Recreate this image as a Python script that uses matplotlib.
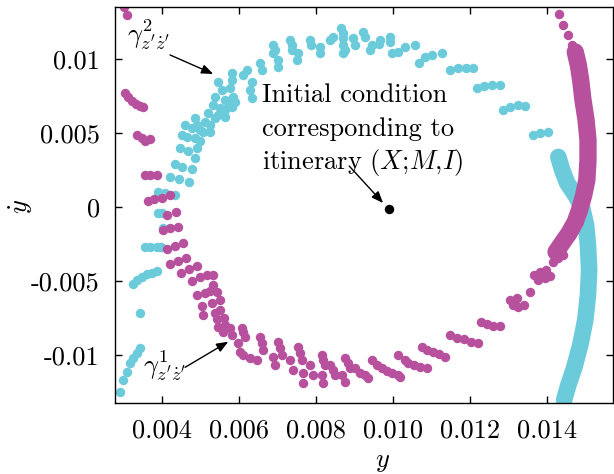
import numpy as np
import matplotlib.pyplot as plt

plt.rcParams['font.family'] = 'cmr10'
plt.rcParams['mathtext.fontset'] = 'cm'
plt.rcParams['axes.unicode_minus'] = False

CYAN = '#6ccbdb'
MAGENTA = '#b7519e'

# all values in units of 1e-3
# gamma^1 (magenta) scattered points
mag_y = np.array([
    3.01, 3.10,
    3.04, 3.12, 3.21, 3.32, 3.43, 3.51,
    3.34, 3.47, 3.56, 3.69,
    3.56, 3.69, 3.86,
    3.64, 3.80, 3.99, 4.21,
    4.12, 4.36,
    4.03, 4.21, 4.42,
    4.12, 4.34, 4.54,
    4.21, 4.41, 4.62,
    4.49, 4.70, 4.91,
    4.77, 4.99, 5.16, 5.33,
    4.90, 5.12, 5.25, 5.33, 5.42,
    5.03, 5.29, 5.51, 5.51,
    5.07, 5.38, 5.61,
    5.42,
    5.46, 5.64, 5.77,
    5.59, 5.81,
    6.07, 6.10, 6.16,
    5.98, 6.03, 6.11, 6.29, 6.46,
    6.55, 6.59, 6.63,
    6.89, 6.94,
    7.02, 7.06, 7.11,
    7.32, 7.41,
    7.54, 7.58, 7.63,
    7.67, 7.67,
    7.84, 7.93,
    8.15, 8.19, 8.23,
    8.15, 8.19,
    8.36, 8.44, 8.49,
    8.67, 8.74,
    8.75, 8.82, 8.88,
    9.01, 9.14,
    9.27, 9.34,
    9.45, 9.58,
    9.71, 9.84, 9.97,
    10.14, 10.18,
    10.14, 10.31,
    10.40, 10.55, 10.70, 10.88,
    10.75, 10.88, 11.04, 11.19, 11.35,
    11.48, 11.66, 11.84, 12.03, 12.21,
    12.29, 12.44, 12.60, 12.78,
    13.04, 13.12, 13.25, 13.40, 13.22,
    13.56,
    13.66, 13.82, 13.97, 13.77, 13.95, 14.08,
    14.16, 14.29, 14.42,
    14.29, 14.42, 14.55, 14.70,
    14.31, 14.42, 14.55, 14.65,
]) * 1e-3
mag_ydot = np.array([
    13.51, 12.97,
    7.72, 7.41, 7.18, 6.96, 6.82, 6.74,
    4.86, 4.64, 4.48, 4.59,
    2.16, 2.16, 2.16,
    0.41, 0.52, 0.63, 0.79,
    -0.56, -0.34,
    -1.55, -1.44, -1.37,
    -2.86, -2.64, -2.45,
    -3.85, -3.63, -3.43,
    -4.44, -4.16, -3.99,
    -4.98, -4.75, -4.59, -4.59,
    -5.95, -5.83, -5.66, -5.27, -5.72,
    -6.69, -6.51, -6.28, -6.96,
    -7.30, -7.14, -7.50,
    -7.59,
    -8.09, -7.97, -8.20,
    -8.43, -8.65,
    -8.20, -8.45, -8.76,
    -9.21, -9.78, -10.0, -10.22, -10.34,
    -8.76, -9.21, -9.66,
    -10.11, -10.68,
    -9.10, -9.55, -10.0,
    -10.34, -11.01,
    -9.44, -9.89, -10.34,
    -11.24, -11.91,
    -10.68, -11.35,
    -10.0, -10.34, -10.68,
    -11.35, -11.91,
    -10.68, -11.01, -11.35,
    -11.35, -11.80,
    -10.22, -10.54, -10.90,
    -10.90, -11.24,
    -11.35, -11.57,
    -10.34, -10.68,
    -10.90, -11.07, -11.24,
    -11.35, -11.51,
    -10.0, -10.34,
    -10.56, -10.68, -10.81, -10.90,
    -9.44, -9.66, -9.80, -9.93, -10.11,
    -8.65, -8.82, -8.95, -9.09, -9.19,
    -7.77, -7.91, -8.01, -8.04,
    -6.28, -6.62, -6.76, -6.62, -6.15,
    -5.72,
    -4.59, -4.39, -4.26, -4.93, -4.80, -4.66,
    -3.72, -3.45, -3.24,
    -2.57, -2.23, -1.89, -1.55,
    13.04, 12.30, 11.62, 10.95,
]) * 1e-3

# dense part of gamma^1 on the right
mag_arc_y = np.array([14.73, 14.81, 14.87, 14.93, 15.01, 15.06, 15.06,
                      15.03, 14.95, 14.84, 14.73, 14.57, 14.39, 14.23]) * 1e-3
mag_arc_ydot = np.array([10.47, 9.59, 8.58, 7.23, 5.88, 4.53, 3.18,
                         1.82, 0.81, -0.20, -1.01, -1.76, -2.43, -3.04]) * 1e-3

# gamma^2 (cyan) scattered points
cyan_y = np.array([
    2.91, 2.99, 3.08, 3.17, 3.25, 3.34, 3.43,
    3.43,
    3.25, 3.34, 3.47, 3.60, 3.73, 3.86,
    3.56, 3.69, 3.86, 3.97,
    3.90, 3.99, 4.03,
    3.90, 4.08, 4.34,
    4.21, 4.44, 4.70,
    4.34, 4.51, 4.77,
    4.86,
    4.47, 4.68, 4.90,
    4.51, 4.64, 4.86, 4.99,
    5.07, 5.25,
    4.60, 4.77, 4.99,
    4.86, 4.90,
    5.12, 5.25,
    5.20, 5.38,
    5.46, 5.64,
    5.51, 5.64, 5.81, 5.90,
    5.64, 5.72, 5.85,
    5.46, 5.55, 5.38, 5.33,
    5.81, 5.81, 5.77,
    6.11, 6.20, 6.33, 6.29, 6.33,
    6.55, 6.59,
    6.89, 6.94, 6.89,
    7.02, 7.02,
    7.32, 7.37, 7.37,
    7.54, 7.50,
    7.84, 7.88,
    8.10, 8.10,
    8.36, 8.45,
    8.66, 8.71, 8.71,
    8.71, 8.75, 8.71,
    8.97, 9.01,
    9.23, 9.27,
    9.45, 9.40,
    9.66, 9.64,
    9.92, 9.92,
    9.96, 10.14, 10.31, 10.57,
    10.66, 10.83, 11.01, 11.26,
    11.48, 11.69, 11.90, 12.08,
    12.18, 12.36, 12.57, 12.78,
    12.86, 13.04, 13.25, 13.43,
    13.64, 13.82, 14.03,
]) * 1e-3
cyan_ydot = np.array([
    -12.48, -11.69, -11.13, -10.56, -10.22, -9.89, -9.55,
    -7.18,
    -5.20, -4.93, -4.71, -4.53, -4.44, -4.32,
    -2.72, -2.72, -2.72, -2.72,
    -0.43, -0.43, -1.44,
    1.03, 0.93, 0.81,
    2.01, 1.87, 1.71,
    2.91, 2.72, 2.55,
    3.29,
    3.97, 3.80, 3.97,
    4.86, 4.73, 4.66, 4.48,
    5.09, 5.09,
    5.54, 5.32, 5.20,
    5.99, 5.54,
    5.76, 5.54,
    6.33, 5.99,
    6.22, 6.10,
    6.67, 6.55, 6.78, 7.11,
    7.23, 7.01, 7.45,
    8.47, 7.91, 7.45, 6.89,
    9.03, 8.58, 8.02,
    8.92, 9.26, 8.47, 7.91, 7.34,
    9.71, 9.26,
    10.95, 10.61, 10.39,
    9.93, 9.48,
    11.28, 10.95, 10.61,
    10.39, 9.93,
    11.28, 10.95,
    10.83, 10.39,
    11.28, 11.51,
    12.07, 11.74, 11.42,
    10.95, 10.61, 10.39,
    11.40, 10.95,
    11.84, 11.51,
    10.95, 10.61,
    11.28, 11.01,
    11.51, 11.17,
    10.39, 10.49, 10.83, 10.95,
    9.71, 10.16, 10.27, 10.39,
    9.26, 9.39, 9.39, 9.39,
    8.04, 8.18, 8.24, 8.24,
    6.55, 6.76, 6.89, 6.82,
    4.86, 5.0, 5.07,
]) * 1e-3

# dense part of gamma^2 on the right
cyan_arc_y = np.array([14.29, 14.39, 14.52, 14.73, 14.91, 15.01, 15.06,
                       15.09, 15.06, 14.99, 14.86, 14.70, 14.55, 14.44]) * 1e-3
cyan_arc_ydot = np.array([3.38, 2.50, 1.62, 0.81, -0.07, -1.22, -2.57,
                          -4.26, -5.95, -7.64, -9.32, -10.88, -12.03, -13.04]) * 1e-3

# initial condition for itinerary (X;M,I)
ic_y = 0.0099
ic_ydot = -0.00015

xticks = [0.004, 0.006, 0.008, 0.010, 0.012, 0.014]
xticklabels = ['0.004', '0.006', '0.008', '0.010', '0.012', '0.014']
yticks = [-0.01, -0.005, 0.0, 0.005, 0.01]
yticklabels = ['-0.01', '-0.005', '0', '0.005', '0.01']

fig = plt.figure(figsize=(6.14, 4.74), dpi=100)
ax = fig.add_axes([0.1873, 0.1498, 0.8111, 0.8354])

ax.plot(cyan_arc_y, cyan_arc_ydot, color=CYAN, lw=12,
        solid_capstyle='round', solid_joinstyle='round')
ax.plot(cyan_y, cyan_ydot, 'o', color=CYAN, ms=6.8, mew=0)
ax.plot(mag_arc_y, mag_arc_ydot, color=MAGENTA, lw=12.5,
        solid_capstyle='round', solid_joinstyle='round')
ax.plot(mag_y, mag_ydot, 'o', color=MAGENTA, ms=6.8, mew=0)
ax.plot(ic_y, ic_ydot, 'o', color='black', ms=6.8, mew=0)

arrow = dict(arrowstyle='-|>,head_length=0.5,head_width=0.2', color='black',
             lw=1.0, mutation_scale=14, shrinkA=0, shrinkB=0)

ax.text(6.60e-3, 7.09e-3, 'Initial condition', fontsize=19, va='baseline')
ax.text(6.60e-3, 4.80e-3, 'corresponding to', fontsize=19, va='baseline')
ax.text(6.60e-3, 2.57e-3, r'itinerary $(X$;$M$,$I)$', fontsize=19, va='baseline')
ax.annotate('', xy=(9.74e-3, 0.27e-3), xytext=(8.86e-3, 2.77e-3), arrowprops=arrow)

ax.text(3.09e-3, 11.05e-3, r"$\gamma^2_{z^\prime\dot z^\prime}$", fontsize=19, va='baseline')
ax.annotate('', xy=(5.33e-3, 8.99e-3), xytext=(4.21e-3, 10.27e-3), arrowprops=arrow)

ax.text(3.51e-3, -11.31e-3, r"$\gamma^1_{z^\prime\dot z^\prime}$", fontsize=19, va='baseline')
ax.annotate('', xy=(5.72e-3, -9.10e-3), xytext=(4.60e-3, -10.83e-3), arrowprops=arrow)

ax.set_xlim(0.00278, 0.01571)
ax.set_ylim(-0.01324, 0.01351)
ax.set_xticks(xticks)
ax.set_xticklabels(xticklabels)
ax.set_yticks(yticks)
ax.set_yticklabels(yticklabels)
ax.tick_params(direction='in', top=True, right=True, length=5, width=1,
               labelsize=19, pad=11)
for s in ax.spines.values():
    s.set_linewidth(1.0)

ax.set_xlabel(r'$y$', fontsize=19)
ax.xaxis.set_label_coords(0.538, -0.12)
ax.set_ylabel(r'$\dot{y}$', fontsize=19)
ax.yaxis.set_label_coords(-0.16, 0.495)

fig.savefig('out.png', dpi=100)
